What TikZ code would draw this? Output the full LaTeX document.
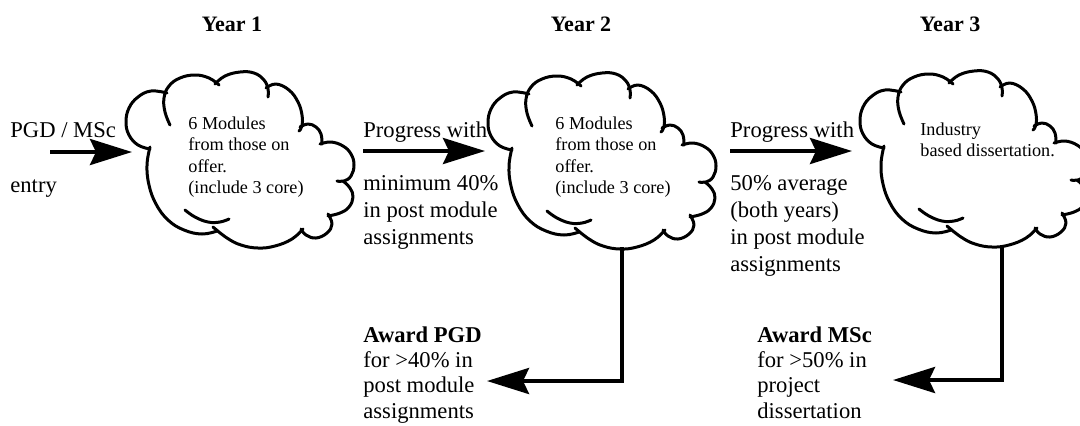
\documentclass[tikz,border=0pt]{standalone}
\usepackage{fontspec}
\setmainfont{Liberation Serif}
\usetikzlibrary{arrows.meta}
\newcommand\cloudshape[1]{%
\begin{scope}[shift={#1}]
\draw[cloudline] plot[smooth,tension=0.7] coordinates {(150,149) (138,145) (129,135) (126,122) (129,108) (138,97) (151,91) (167,93)};
\draw[cloudline] plot[smooth,tension=0.7] coordinates {(170,125) (165,112) (164,98) (169,86) (180,78) (195,75) (209,78) (219,85)};
\draw[cloudline] plot[smooth,tension=0.7] coordinates {(215,84) (225,76) (240,72) (254,73) (264,80) (268,89) (268,97)};
\draw[cloudline] plot[smooth,tension=0.7] coordinates {(266,88) (276,84) (289,90) (298,102) (302,115) (302,126) (299,131)};
\draw[cloudline] plot[smooth,tension=0.7] coordinates {(300,127) (308,124) (316,127) (321,134) (322,144)};
\draw[cloudline] plot[smooth,tension=0.7] coordinates {(320,144) (331,142) (343,146) (351,154) (354,165) (351,176) (344,181) (337,181)};
\draw[cloudline] plot[smooth,tension=0.7] coordinates {(343,181) (350,188) (353,197) (349,207) (340,213) (328,216)};
\draw[cloudline] plot[smooth,tension=0.7] coordinates {(328,214) (332,224) (327,233) (316,238) (306,235) (301,229)};
\draw[cloudline] plot[smooth,tension=0.7] coordinates {(303,229) (292,239) (275,246) (258,248) (241,245) (227,238) (213,227)};
\draw[cloudline] plot[smooth,tension=0.7] coordinates {(150,147) (147,165) (149,185) (156,204) (168,220) (184,230) (202,234) (217,231)};
\draw[cloudline] plot[smooth,tension=0.7] coordinates {(185,210) (195,217) (208,222) (220,222) (229,219)};
\end{scope}}
\begin{document}
\begin{tikzpicture}[x=0.5pt,y=-0.5pt,
  cloudline/.style={line width=1.5pt,line join=round,line cap=round},
  flow/.style={line width=2pt,-{Stealth[length=21pt,width=13pt,inset=3pt]}},
  maintext/.style={font=\fontsize{11.3}{13.5}\selectfont,anchor=base west,inner sep=0pt,align=left},
  awardtext/.style={font=\fontsize{11.3}{12.7}\selectfont,anchor=base west,inner sep=0pt,align=left},
  cloudtext/.style={font=\fontsize{9.1}{10.8}\selectfont,anchor=base west,inner sep=0pt,align=left},
  yeartext/.style={font=\fontsize{11}{13}\selectfont\bfseries,anchor=base,inner sep=0pt}]
\clip (0,0) rectangle (1080,425);
% year labels
\node[yeartext] (y1) at (232,31) {Year 1};
\node[yeartext] (y2) at (581,31) {Year 2};
\node[yeartext] (y3) at (950,31) {Year 3};
% clouds
\cloudshape{(0,0)}
\cloudshape{(362,1)}
\cloudshape{(734,-1)}
% multi-line nodes: base anchor = last line's baseline
\node[cloudtext] (t1) at (188,193.8) {6 Modules\\from those on\\offer.\\(include 3 core)};
\node[cloudtext] (t2) at (555,193.8) {6 Modules\\from those on\\offer.\\(include 3 core)};
\node[cloudtext] (t3) at (920,156.6) {Industry\\based dissertation.};
% entry
\node[maintext] (pgd) at (10,137) {PGD / MSc};
\node[maintext] (entry) at (10,192) {entry};
\coordinate (e1) at (50,152);
\coordinate (c1w) at (132,152);
\draw[flow] (e1) -- (c1w);
% progress 1
\node[maintext] (pr1) at (363,137) {Progress with};
\node[maintext] (cond1) at (363,244) {minimum 40\%\\in post module\\assignments};
\coordinate (p1) at (363,151);
\coordinate (c2w) at (485,151);
\draw[flow] (p1) -- (c2w);
% progress 2
\node[maintext] (pr2) at (730,137) {Progress with};
\node[maintext] (cond2) at (730,271) {50\% average\\(both years)\\in post module\\assignments};
\coordinate (p2) at (730,151);
\coordinate (c3w) at (852,151);
\draw[flow] (p2) -- (c3w);
% awards
\coordinate (c2s) at (622,247);
\coordinate (pgdtip) at (487,381);
\draw[flow,line join=miter] (c2s) |- (pgdtip);
\node[awardtext] (apgd) at (363,418.2) {\textbf{Award PGD}\\for >40\% in\\post module\\assignments};
\coordinate (c3s) at (1002,245);
\coordinate (msctip) at (893,380);
\draw[flow,line join=miter] (c3s) |- (msctip);
\node[awardtext] (amsc) at (757,418.2) {\textbf{Award MSc}\\for >50\% in\\project\\dissertation};
\end{tikzpicture}
\end{document}
